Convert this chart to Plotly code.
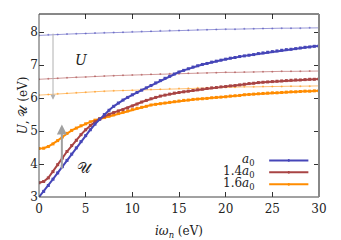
import plotly.graph_objects as go

# ---------------- data ----------------
w_fine = [i * 0.5 for i in range(61)]
w_coarse = [float(i) for i in range(31)]

U_scr_a0 = [3.00, 3.17, 3.35, 3.54, 3.73, 3.92, 4.11, 4.30, 4.49, 4.68, 4.86, 5.04, 5.21, 5.36, 5.50, 5.63,
            5.75, 5.85, 5.94, 6.02, 6.10, 6.17, 6.24, 6.31, 6.38, 6.46, 6.53, 6.60, 6.66, 6.73, 6.79, 6.84,
            6.89, 6.94, 6.98, 7.02, 7.05, 7.09, 7.12, 7.15, 7.18, 7.21, 7.23, 7.26, 7.28, 7.30, 7.32, 7.35,
            7.37, 7.39, 7.41, 7.43, 7.45, 7.47, 7.48, 7.50, 7.52, 7.54, 7.55, 7.57, 7.58]
U_scr_14 = [3.43, 3.47, 3.58, 3.77, 3.98, 4.18, 4.38, 4.56, 4.72, 4.89, 5.04, 5.17, 5.28, 5.37, 5.45, 5.51,
            5.56, 5.61, 5.65, 5.70, 5.76, 5.82, 5.88, 5.93, 5.98, 6.02, 6.06, 6.09, 6.12, 6.15, 6.17, 6.19,
            6.21, 6.23, 6.25, 6.27, 6.29, 6.31, 6.32, 6.34, 6.35, 6.37, 6.38, 6.40, 6.42, 6.44, 6.45, 6.47,
            6.48, 6.49, 6.50, 6.51, 6.52, 6.53, 6.54, 6.55, 6.55, 6.56, 6.57, 6.57, 6.58]
U_scr_16 = [4.47, 4.48, 4.53, 4.61, 4.71, 4.82, 4.93, 5.02, 5.09, 5.16, 5.22, 5.28, 5.33, 5.37, 5.41, 5.45,
            5.49, 5.53, 5.57, 5.61, 5.65, 5.69, 5.72, 5.75, 5.79, 5.81, 5.83, 5.85, 5.87, 5.89, 5.91, 5.93,
            5.94, 5.96, 5.97, 5.98, 5.99, 6.01, 6.02, 6.03, 6.04, 6.06, 6.07, 6.08, 6.10, 6.11, 6.12, 6.13,
            6.14, 6.15, 6.16, 6.16, 6.17, 6.18, 6.19, 6.19, 6.20, 6.21, 6.21, 6.22, 6.22]

U_bare_a0 = [7.90, 7.92, 7.93, 7.94, 7.95, 7.96, 7.97, 7.98, 7.99, 8.00, 8.01, 8.02, 8.03, 8.04, 8.05, 8.05,
             8.06, 8.07, 8.07, 8.08, 8.09, 8.09, 8.10, 8.10, 8.11, 8.11, 8.12, 8.12, 8.12, 8.13, 8.13]
U_bare_14 = [6.57, 6.59, 6.60, 6.62, 6.63, 6.64, 6.66, 6.67, 6.68, 6.69, 6.70, 6.71, 6.72, 6.73, 6.74, 6.74,
             6.75, 6.76, 6.76, 6.77, 6.78, 6.78, 6.79, 6.79, 6.80, 6.80, 6.81, 6.81, 6.81, 6.82, 6.82]
U_bare_16 = [6.09, 6.11, 6.13, 6.15, 6.16, 6.18, 6.19, 6.21, 6.22, 6.23, 6.24, 6.25, 6.26, 6.27, 6.28, 6.29,
             6.30, 6.31, 6.31, 6.32, 6.33, 6.33, 6.34, 6.34, 6.35, 6.35, 6.35, 6.36, 6.36, 6.36, 6.37]

labels = ["<i>a</i><sub>0</sub>", "1.4<i>a</i><sub>0</sub>", "1.6<i>a</i><sub>0</sub>"]
colors = ["#4646b8", "#a84444", "#ff8c00"]
thin_colors = ["rgba(70,70,184,0.55)", "rgba(168,68,68,0.55)", "rgba(255,140,0,0.55)"]

# arrows (data positions of annotations)
arrow_down = dict(x=1.5, y0=8.0, y1=5.95)
arrow_up = dict(x=2.45, y0=3.82, y1=5.2)

FONT = "DejaVu Serif, Liberation Serif, serif"

fig = go.Figure()
for ys, c in zip([U_bare_a0, U_bare_14, U_bare_16], thin_colors):
    fig.add_trace(go.Scatter(x=w_coarse, y=ys, mode="lines+markers",
                             line=dict(color=c, width=1), marker=dict(size=2, color=c),
                             showlegend=False))
for ys, c in zip([U_scr_16, U_scr_14, U_scr_a0], colors[::-1]):
    fig.add_trace(go.Scatter(x=w_fine, y=ys, mode="lines+markers",
                             line=dict(color=c, width=2), marker=dict(size=3, color=c, symbol="square"),
                             showlegend=False))

# arrows
fig.add_annotation(x=arrow_down["x"], y=arrow_down["y1"], ax=arrow_down["x"], ay=arrow_down["y0"],
                   xref="x", yref="y", axref="x", ayref="y", showarrow=True, text="",
                   arrowhead=2, arrowsize=1, arrowwidth=1, arrowcolor="#b0b0b0")
fig.add_annotation(x=arrow_up["x"], y=arrow_up["y1"], ax=arrow_up["x"], ay=arrow_up["y0"],
                   xref="x", yref="y", axref="x", ayref="y", showarrow=True, text="",
                   arrowhead=2, arrowsize=1, arrowwidth=2, arrowcolor="#a0a0a0")
fig.add_annotation(x=4.6, y=7.15, xref="x", yref="y", text="<i>U</i>", showarrow=False,
                   font=dict(family=FONT, size=14, color="#222"))
fig.add_annotation(x=4.9, y=3.88, xref="x", yref="y", text="𝒰", showarrow=False,
                   font=dict(family=FONT, size=15, color="#222"))

# manual legend (paper coords)
rows = [0.200, 0.135, 0.069]
for lab, c, yy in zip(labels, colors, rows):
    fig.add_annotation(x=0.778, y=yy, xref="paper", yref="paper", xanchor="right", yanchor="middle",
                       text=lab, showarrow=False, font=dict(family=FONT, size=12, color="#222"))
    fig.add_shape(type="line", xref="paper", yref="paper", x0=0.822, x1=0.962, y0=yy, y1=yy,
                  line=dict(color=c, width=2))
    fig.add_shape(type="rect", xref="paper", yref="paper", x0=0.889, x1=0.895, y0=yy - 0.007, y1=yy + 0.007,
                  line=dict(width=0), fillcolor=c)

# frame
fig.add_shape(type="line", xref="paper", yref="paper", x0=0, x1=1, y0=1, y1=1, line=dict(color="#111", width=1))
fig.add_shape(type="line", xref="paper", yref="paper", x0=0, x1=0, y0=0, y1=1, line=dict(color="#555", width=1))
fig.add_shape(type="line", xref="paper", yref="paper", x0=0, x1=1, y0=0, y1=0, line=dict(color="#444", width=1))
fig.add_shape(type="line", xref="paper", yref="paper", x0=1, x1=1, y0=0, y1=1, line=dict(color="#888", width=2))

fig.update_layout(
    width=333, height=232,
    margin=dict(l=31, r=22, t=6, b=43, autoexpand=False),
    paper_bgcolor="white", plot_bgcolor="white",
    font=dict(family=FONT, size=12, color="#222"),
    xaxis=dict(range=[0, 30], tickvals=[0, 5, 10, 15, 20, 25, 30], ticks="inside", ticklen=5,
               tickcolor="#333", mirror="ticks", showline=False, showgrid=False, zeroline=False,
               automargin=False, ticklabelstandoff=3,
               title=dict(text="<i>iω</i><sub><i>n</i></sub> (eV)", standoff=14, font=dict(size=12)),
               tickfont=dict(size=12)),
    yaxis=dict(range=[3, 8.55], tickvals=[3, 4, 5, 6, 7, 8], ticks="inside", ticklen=5,
               tickcolor="#333", mirror="ticks", showline=False, showgrid=False, zeroline=False,
               automargin=False,
               title=dict(text="<i>U</i>, 𝒰 (eV)", standoff=0, font=dict(size=12)),
               tickfont=dict(size=12)),
)

fig.write_html("out.html")
